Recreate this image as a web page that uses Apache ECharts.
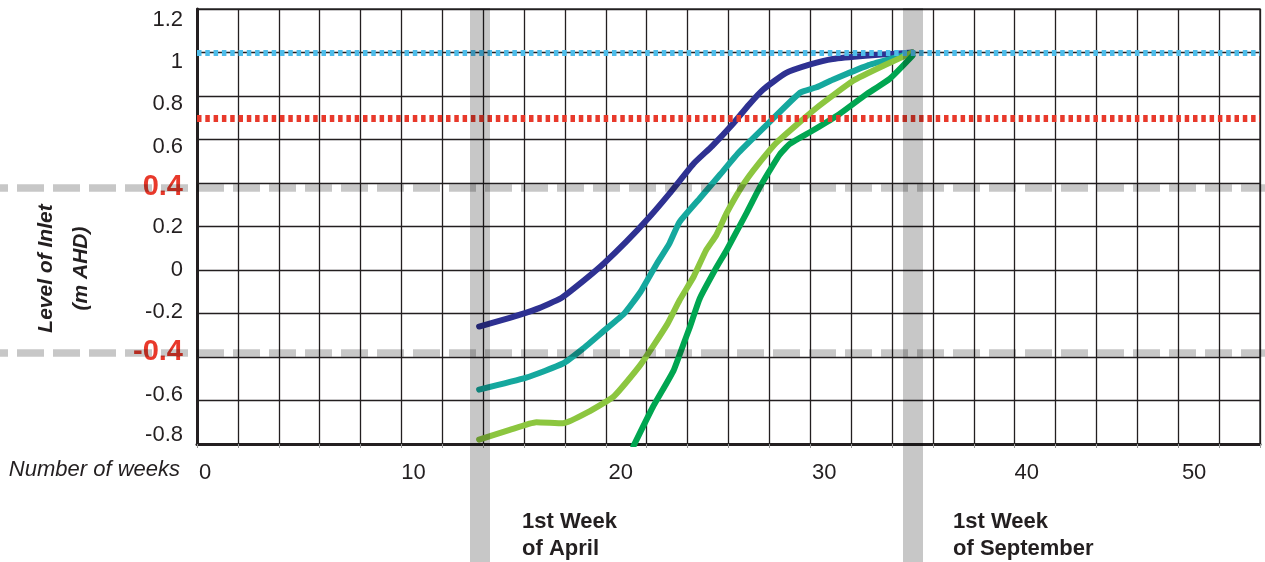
<!DOCTYPE html>
<html>
<head>
<meta charset="utf-8">
<script src="https://cdn.jsdelivr.net/npm/echarts@6/dist/echarts.min.js"></script>
<style>
html,body{margin:0;padding:0;background:#fff;}
#chart{width:1265px;height:562px;}
</style>
</head>
<body>
<div id="chart"></div>
<script>
// ---- data (weeks, level m AHD) ----
var darkBlue = [[13.8,-0.26],[15.3,-0.22],[16.6,-0.18],[17.8,-0.13],[18.9,-0.05],[19.9,0.03],[21.0,0.13],[22.1,0.24],[23.1,0.35],[24.3,0.49],[25.2,0.57],[26.2,0.67],[27.0,0.76],[27.7,0.83],[28.8,0.905],[30.0,0.945],[31.1,0.97],[32.7,0.985],[35.0,1.0]];
var teal = [[13.8,-0.55],[16.1,-0.495],[17.9,-0.43],[18.9,-0.36],[19.9,-0.28],[20.9,-0.20],[21.7,-0.10],[22.5,0.03],[23.1,0.12],[23.6,0.22],[24.6,0.33],[25.6,0.44],[26.5,0.54],[27.9,0.67],[29.5,0.815],[30.3,0.84],[31.1,0.875],[32.8,0.94],[34.1,0.975],[35.0,1.0]];
var lightGreen = [[13.8,-0.78],[15.3,-0.735],[16.6,-0.70],[17.9,-0.705],[19.1,-0.655],[20.4,-0.58],[21.7,-0.435],[23.0,-0.25],[23.6,-0.14],[24.3,-0.03],[24.9,0.09],[25.4,0.16],[25.9,0.26],[26.7,0.39],[27.4,0.48],[28.4,0.59],[30.3,0.745],[32.1,0.87],[33.6,0.94],[35.0,1.0]];
var green = [[21.35,-0.81],[22.3,-0.63],[23.3,-0.465],[23.8,-0.34],[24.1,-0.265],[24.6,-0.13],[25.4,0.01],[25.9,0.09],[26.9,0.265],[27.5,0.375],[28.0,0.455],[28.5,0.53],[29.0,0.58],[30.1,0.64],[31.4,0.715],[32.7,0.805],[33.9,0.88],[35.0,0.985]];
var blueLevel = [1.0];
var redLevel = [0.7];
var grayLevels = [0.38, -0.38];
var bandWeeks = [13.85, 35.0];
var bandLabels = ['1st Week\nof April', '1st Week\nof September'];
var xTickLabels = [0, 10, 20, 30, 40, 50];
var redTickLabels = [0.4, -0.4];
var xAxisTitle = 'Number of weeks';
var yAxisTitle = 'Level of Inlet\n(m AHD)';

// ---- styling helpers ----
var INK = '#231f20';
var FONT = '"Liberation Sans", Arial, sans-serif';
var yShift = {'1.2':11,'1':9,'0.8':8,'0.6':7,'0.4':4,'0.2':0,'0':0,'-0.2':-2,'-0.4':-5,'-0.6':-6,'-0.8':-9};
var xShift = {'0':8,'10':12,'20':15,'30':14,'40':12,'50':-25};
function pad(d, vertical){
  if (vertical) return d >= 0 ? [2*d,0,0,0] : [0,0,-2*d,0];
  return d >= 0 ? [0,0,0,2*d] : [0,-2*d,0,0];
}
var yRich = {};
Object.keys(yShift).forEach(function(k, i){
  var isRed = redTickLabels.some(function(r){return String(r) === k;});
  yRich['y' + i] = {
    fontSize: isRed ? 29 : 22,
    fontWeight: isRed ? 'bold' : 'normal',
    color: isRed ? '#e8392b' : INK,
    fontFamily: FONT,
    padding: pad(yShift[k], true)
  };
});
var yKeys = Object.keys(yShift);
var xRich = {};
xTickLabels.forEach(function(v){
  xRich['x' + v] = {fontSize: 22, color: INK, fontFamily: FONT, padding: pad(xShift[String(v)], false)};
});

var chart = echarts.init(document.getElementById('chart'), null, {renderer: 'canvas'});

function lineSeries(name, data, color){
  return {
    name: name, type: 'line', xAxisIndex: 0, yAxisIndex: 0,
    data: data, symbol: 'none', smooth: 0.15, z: 3,
    lineStyle: {color: color, width: 6, cap: 'round', join: 'round'},
    clip: true, silent: true
  };
}

var option = {
  animation: false,
  backgroundColor: '#fff',
  textStyle: {fontFamily: FONT},
  grid: [
    {left: 197, right: 5, top: 9, bottom: 118, show: true, borderColor: '#3c3c3c', borderWidth: 1.5, outerBoundsMode: 'none'},
    {left: 197, right: 5, top: 8, bottom: 0, show: false, outerBoundsMode: 'none'},
    {left: 0, right: 0, top: 9, bottom: 118, show: false, outerBoundsMode: 'none'}
  ],
  xAxis: [
    {
      type: 'value', gridIndex: 0, min: 0, max: 52, interval: 2,
      axisLine: {show: true, onZero: false, lineStyle: {color: INK, width: 3}},
      axisTick: {show: true, length: 4, lineStyle: {color: '#9a9a9a', width: 1}},
      splitLine: {show: true, lineStyle: {color: INK, width: 1.3}},
      axisLabel: {
        show: true, margin: 18, interval: 0,
        formatter: function(v){ return xTickLabels.indexOf(v) >= 0 ? '{x' + v + '|' + v + '}' : ''; },
        rich: xRich
      }
    },
    {type: 'value', gridIndex: 1, min: 0, max: 52, show: false},
    {type: 'value', gridIndex: 2, min: 0, max: 1, show: false}
  ],
  yAxis: [
    {
      type: 'value', gridIndex: 0, min: -0.8, max: 1.2, interval: 0.2,
      name: yAxisTitle, nameLocation: 'middle', nameGap: 98,
      nameTextStyle: {fontSize: 21, fontWeight: 'bold', fontStyle: 'italic', color: INK, fontFamily: FONT, lineHeight: 35, padding: [0, 84, 0, 0]},
      axisLine: {show: true, onZero: false, lineStyle: {color: INK, width: 3}},
      axisTick: {show: false},
      splitLine: {show: true, lineStyle: {color: INK, width: 1.3}},
      axisLabel: {
        show: true, margin: 14,
        formatter: function(v){
          var k = String(Math.round(v * 10) / 10);
          var i = yKeys.indexOf(k);
          return '{y' + i + '|' + k + '}';
        },
        rich: yRich
      }
    },
    {type: 'value', gridIndex: 1, min: 0, max: 1, show: false},
    {type: 'value', gridIndex: 2, min: -0.8, max: 1.2, show: false}
  ],
  series: [
    {
      type: 'line', xAxisIndex: 2, yAxisIndex: 2, data: [], z: -1, silent: true,
      markLine: {
        silent: true, symbol: ['none','none'], label: {show: false},
        lineStyle: {color: 'rgba(0,0,0,0.22)', width: 7.5, type: [27, 9], dashOffset: 19},
        data: grayLevels.map(function(v){ return {yAxis: v}; })
      }
    },
    {
      type: 'line', xAxisIndex: 0, yAxisIndex: 0, data: [], z: 2, silent: true,
      markLine: {
        silent: true, symbol: ['none','none'], label: {show: false},
        lineStyle: {color: '#4ebdea', width: 6, type: [4.5, 3.8]},
        data: blueLevel.map(function(v){ return {yAxis: v}; })
      }
    },
    {
      type: 'line', xAxisIndex: 0, yAxisIndex: 0, data: [], z: 2, silent: true,
      markLine: {
        silent: true, symbol: ['none','none'], label: {show: false},
        lineStyle: {color: '#e8392b', width: 7, type: [4.5, 3.8]},
        data: redLevel.map(function(v){ return {yAxis: v}; })
      }
    },
    lineSeries('Series A', darkBlue, '#2e3192'),
    lineSeries('Series B', teal, '#15a89e'),
    lineSeries('Series C', lightGreen, '#8cc63f'),
    lineSeries('Series D', green, '#00a651'),
    {
      type: 'line', xAxisIndex: 1, yAxisIndex: 1, data: [], z: 5, silent: true,
      markLine: {
        silent: true, symbol: ['none','none'], label: {show: false},
        lineStyle: {color: 'rgba(0,0,0,0.22)', width: 20, type: 'solid'},
        data: bandWeeks.map(function(v){ return {xAxis: v}; })
      }
    }
  ],
  graphic: [
    {type: 'text', right: 1085, top: 459, style: {text: xAxisTitle, font: 'italic 22px ' + FONT, fill: INK}},
    {type: 'text', left: 522, top: 508, style: {text: bandLabels[0], font: 'bold 22px ' + FONT, fill: INK, lineHeight: 27}},
    {type: 'text', left: 953, top: 508, style: {text: bandLabels[1], font: 'bold 22px ' + FONT, fill: INK, lineHeight: 27}}
  ]
};
chart.setOption(option);
</script>
</body>
</html>
